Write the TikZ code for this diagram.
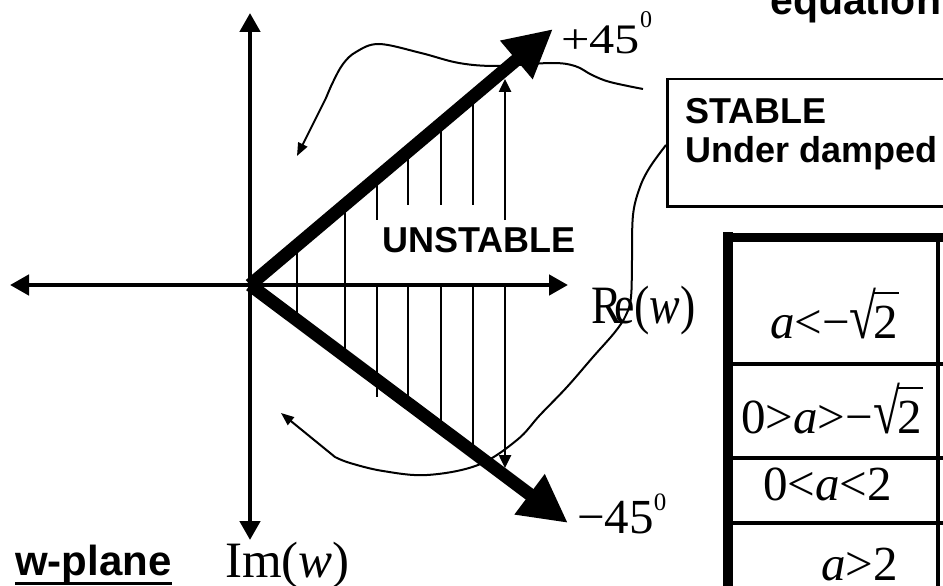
\documentclass[tikz,border=0pt]{standalone}
\usepackage{fontspec}
\usepackage{graphicx}
\setmainfont{Liberation Serif}
\newfontfamily\arial{Liberation Sans}
\usetikzlibrary{arrows.meta,positioning}

\newcommand{\rtwo}{\scalebox{1}[1.3]{\char"221A}\kern-0.06em\rlap{\rule[0.89em]{0.52em}{0.05em}}2}

\begin{document}
\begin{tikzpicture}[x=1pt,y=-1pt,
  axis/.style={line width=4.5pt,{Triangle[length=19pt,width=20pt]}-{Triangle[length=19pt,width=20pt]}},
  ray/.style={line width=13pt,-{Triangle[length=48pt,width=47pt]}},
  hatch/.style={line width=2.5pt},
  hatcharr/.style={hatch,-{Triangle[length=13pt,width=12pt]}},
  loop/.style={line width=2pt,-{Triangle[length=13pt,width=10pt]}},
  lbl/.style={font=\arial\bfseries\fontsize{36}{36}\selectfont,inner sep=0pt,anchor=base west},
  num/.style={inner sep=0pt,anchor=base west},
  cell/.style={num,font=\fontsize{49}{49}\selectfont}
]
\useasboundingbox (0,0) rectangle (943,586);
% axes
\coordinate (O)  at (250,285);
\coordinate (xl) at (10,285);
\coordinate (xr) at (568,285);
\coordinate (yt) at (250,13);
\coordinate (yb) at (250,540);
\draw[axis] (xl) -- (xr);
\draw[axis] (yt) -- (yb);
% hatching
\foreach \x/\t/\b in {297/245/320, 345/205/356}
  \draw[hatch] (\x,\t) -- (\x,\b);
\foreach \x/\t/\m/\b in {377/178/220/397, 408/151/205/403, 441/124/205/428, 473/97/205/452}{
  \draw[hatch] (\x,\t) -- (\x,\m);
  \draw[hatch] (\x,285) -- (\x,\b);
}
\draw[hatcharr] (505,220) -- (505,79);
\draw[hatcharr] (505,285) -- (505,468);
% +/-45 rays
\coordinate (p45) at (553,29);
\coordinate (m45) at (568,523);
\draw[ray] (O) -- (p45);
\draw[ray] (O) -- (m45);
\node[num,font=\fontsize{42}{42}\selectfont] (plab) at (561,54)
  {\scalebox{1.2}[1]{+45}\raisebox{26pt}{\fontsize{24}{24}\selectfont 0}};
\node[num,font=\fontsize{49}{49}\selectfont] (mlab) at (577,533)
  {−45\raisebox{23pt}{\fontsize{25}{25}\selectfont 0}};
\node[num,font=\fontsize{54}{54}\selectfont] (re) at (591,323)
  {\scalebox{0.85}[1]{R\kern-0.17em e(\textit{w})}};
\node[num,font=\fontsize{51}{51}\selectfont] (im) at (225,577) {Im(\textit{w})};
\node[lbl] (unst) at (382,252) {UNSTABLE};
\node[lbl,font=\arial\bfseries\fontsize{42}{42}\selectfont] (wpl) at (15,575) {w-plane};
\draw[line width=3pt] (wpl.south west) -- (wpl.south east);
\node[lbl,font=\arial\bfseries\fontsize{41}{41}\selectfont] (eq) at (770,15) {equation};
% region box
\node[draw,line width=2.5pt,anchor=north west,minimum width=300pt,minimum height=127pt] (stab) at (666,78) {};
\node[lbl] (st1) at (685,123) {STABLE};
\node[lbl,anchor=base west] (st2) at ([yshift=-39pt]st1.base west) {Under damped};
% sketched curves
\draw[loop] plot[smooth,tension=0.6] coordinates {(643,89) (610,82) (592,75) (575,66) (551,63) (497,66) (459,63) (421,53) (379,44) (356,52) (343,64) (333,82) (326,98)} -- (297,156);
\draw[loop] plot[smooth,tension=0.6] coordinates {(666,145) (650,167) (640,187) (633,215) (632,260) (631,297) (626,315) (615,332) (593,357) (567,387) (540,415) (517,440) (478,465) (427,475) (383,471) (350,463) (335,457)} -- (281,413);
% table
\draw[line width=10pt] (728,232) -- (728,590);
\draw[line width=9pt] (723,237.5) -- (950,237.5);
\draw[line width=3.5pt] (938,242) -- (938,590);
\foreach \y in {364,458,523}
  \draw[line width=3.5pt] (733,\y) -- (950,\y);
\node[cell] (c1) at (770,338) {\textit{a}<−\rtwo};
\node[cell] (c2) at (741,433) {0>\textit{a}>−\rtwo};
\node[cell] (c3) at (763,500) {0<\textit{a}<2};
\node[cell] (c4) at (821,580) {\textit{a}>2};
\end{tikzpicture}
\end{document}
